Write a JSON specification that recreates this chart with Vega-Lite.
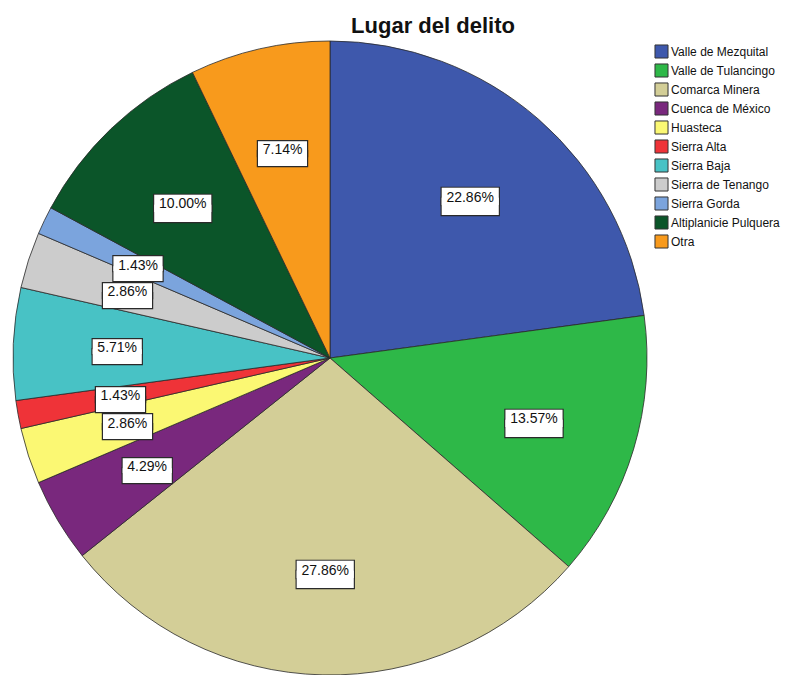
{
  "$schema": "https://vega.github.io/schema/vega-lite/v6.json",
  "width": 636,
  "height": 632,
  "autosize": "none",
  "padding": {"left": 12, "top": 42, "right": 159, "bottom": 1},
  "background": "white",
  "title": {"text": "Lugar del delito", "font": "Liberation Sans", "fontSize": 22, "fontWeight": "bold", "color": "#111111", "anchor": "middle", "dx": 103, "offset": 1},
  "data": {"values": [
    {"idx": 1, "lugar": "Valle de Mezquital", "n": 32, "label": "22.86%", "big": "y"},
    {"idx": 2, "lugar": "Valle de Tulancingo", "n": 19, "label": "13.57%", "big": "y"},
    {"idx": 3, "lugar": "Comarca Minera", "n": 39, "label": "27.86%", "big": "y"},
    {"idx": 4, "lugar": "Cuenca de México", "n": 6, "label": "4.29%", "big": "n"},
    {"idx": 5, "lugar": "Huasteca", "n": 4, "label": "2.86%", "big": "n"},
    {"idx": 6, "lugar": "Sierra Alta", "n": 2, "label": "1.43%", "big": "n"},
    {"idx": 7, "lugar": "Sierra Baja", "n": 8, "label": "5.71%", "big": "n"},
    {"idx": 8, "lugar": "Sierra de Tenango", "n": 4, "label": "2.86%", "big": "n"},
    {"idx": 9, "lugar": "Sierra Gorda", "n": 2, "label": "1.43%", "big": "n"},
    {"idx": 10, "lugar": "Altiplanicie Pulquera", "n": 14, "label": "10.00%", "big": "y"},
    {"idx": 11, "lugar": "Otra", "n": 10, "label": "7.14%", "big": "n"}
  ]},
  "encoding": {
    "theta": {"field": "n", "type": "quantitative", "stack": true},
    "order": {"field": "idx", "type": "quantitative"}
  },
  "layer": [
    {
      "mark": {"type": "arc", "radius": 317, "stroke": "#2a2a2a", "strokeWidth": 0.8},
      "encoding": {
        "color": {
          "field": "lugar", "type": "nominal", "title": null,
          "scale": {
            "domain": ["Valle de Mezquital", "Valle de Tulancingo", "Comarca Minera", "Cuenca de México", "Huasteca", "Sierra Alta", "Sierra Baja", "Sierra de Tenango", "Sierra Gorda", "Altiplanicie Pulquera", "Otra"],
            "range": ["#3e58ac", "#2eb848", "#d3ce97", "#79287d", "#fbf873", "#ef3338", "#48c2c5", "#cccccc", "#7ba4dd", "#0b5529", "#f89a1c"]
          },
          "legend": {
            "orient": "none", "legendX": 642, "legendY": 2,
            "symbolType": "square", "symbolSize": 170, "symbolStrokeColor": "#333333", "symbolStrokeWidth": 1,
            "symbolOpacity": 1,
            "labelFont": "Liberation Sans", "labelFontSize": 12, "labelColor": "#111111", "labelOffset": 2,
            "rowPadding": 0, "labelLimit": 200
          }
        }
      }
    },
    {
      "mark": {"type": "text", "radius": 213, "text": ["▬", "▬"], "lineHeight": 10, "font": "Liberation Sans", "fill": "#2a2a2a", "stroke": "#2a2a2a", "strokeWidth": 2.4, "baseline": "middle", "align": "center", "dy": -9.5},
      "encoding": {
        "size": {"field": "big", "type": "nominal", "scale": {"domain": ["y", "n"], "range": [57, 49]}, "legend": null}
      }
    },
    {
      "mark": {"type": "text", "radius": 213, "text": ["▬", "▬"], "lineHeight": 10, "font": "Liberation Sans", "fill": "white", "baseline": "middle", "align": "center", "dy": -9.5},
      "encoding": {
        "size": {"field": "big", "type": "nominal", "scale": {"domain": ["y", "n"], "range": [57, 49]}, "legend": null}
      }
    },
    {
      "mark": {"type": "text", "radius": 213, "font": "Liberation Sans", "fontSize": 14, "fill": "#111111", "baseline": "middle", "align": "center"},
      "encoding": {
        "text": {"field": "label"}
      }
    }
  ]
}
